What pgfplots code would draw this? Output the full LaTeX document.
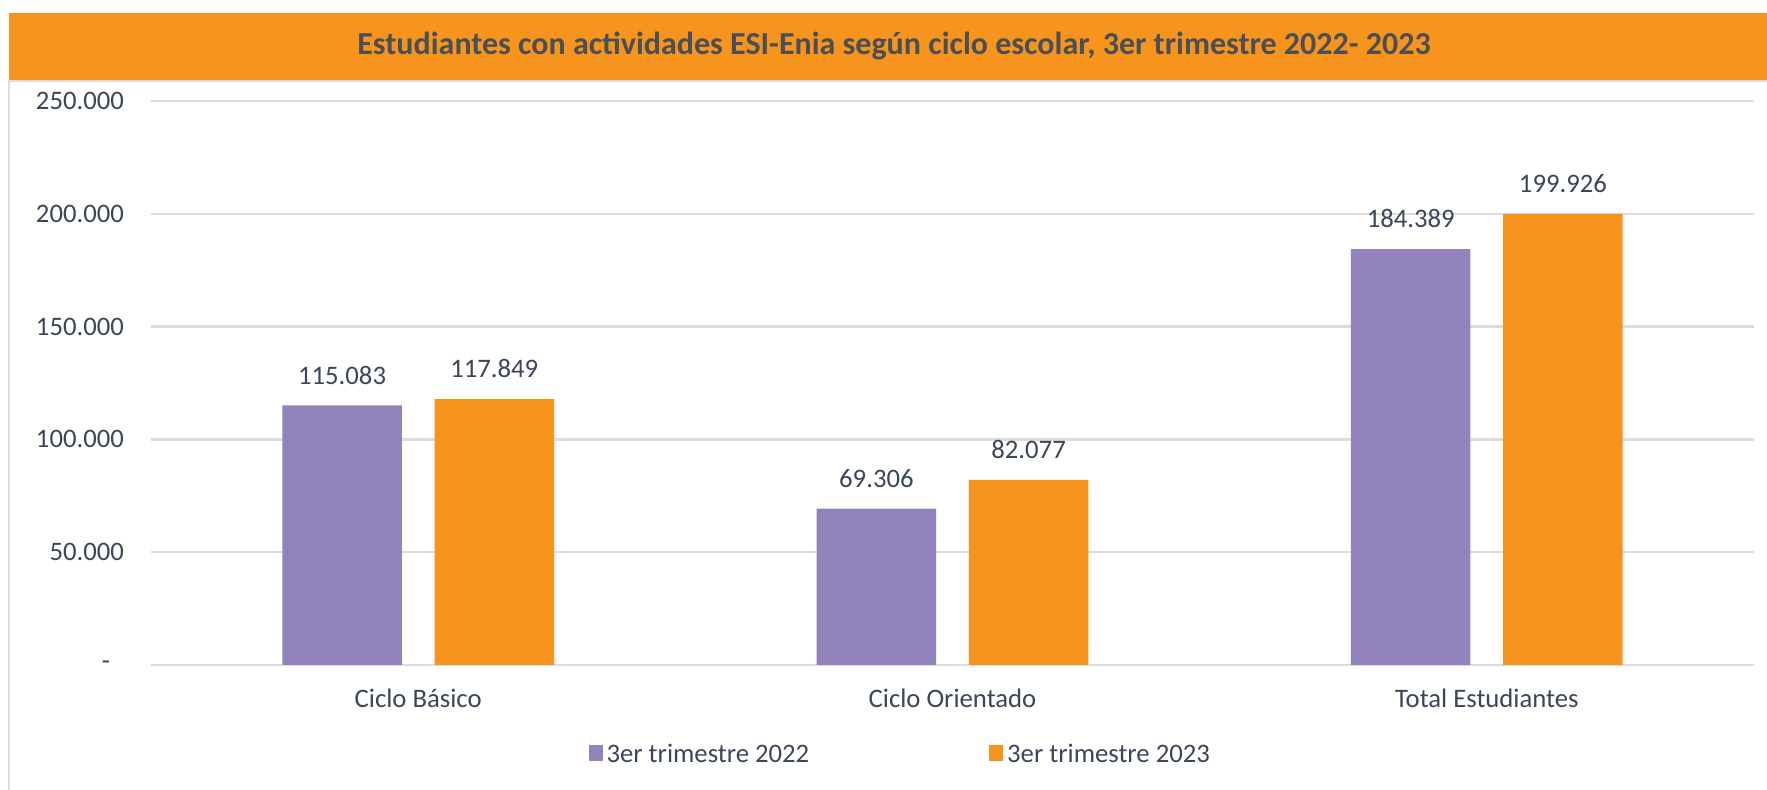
\documentclass[border=0pt]{standalone}
\usepackage{pgfplots}
\pgfplotsset{compat=1.18}
\usepackage{fontspec}
\setmainfont{Carlito}
\definecolor{txt}{HTML}{3B4658}
\definecolor{ttl}{HTML}{4A4F56}
\definecolor{org}{RGB}{247,148,30}
\definecolor{pur}{RGB}{147,131,189}
\definecolor{grd}{HTML}{DCDCDC}
\begin{document}
\begin{tikzpicture}
\path[use as bounding box, fill=white] (0,0) rectangle (883.5pt,395pt);
\fill[org] (4.5pt,355pt) rectangle (883.5pt,388.5pt);
\draw[grd, line width=1pt] (4.5pt,354.5pt) -- (883.5pt,354.5pt);
\draw[grd, line width=1pt] (4.5pt,355pt) -- (4.5pt,0pt);
\node[font=\fontsize{16pt}{19pt}\selectfont\bfseries, text=ttl] at (447pt,372pt) {Estudiantes con actividades ESI-Enia según ciclo escolar, 3er trimestre 2022- 2023};
\begin{axis}[
  at={(75.5pt,62.5pt)}, anchor=south west,
  scale only axis, width=801.5pt, height=282pt,
  ybar=16.35pt, bar width=59.75pt,
  xmin=-0.5, xmax=2.5, ymin=0, ymax=250000,
  xtick={0,1,2}, xticklabels={Ciclo Básico,Ciclo Orientado,Total Estudiantes},
  ytick={0,50000,100000,150000,200000,250000},
  yticklabels={-\rule{7pt}{0pt},50.000,100.000,150.000,200.000,250.000},
  scaled y ticks=false,
  /pgf/number format/assume math mode=true,
  axis line style={draw=none},
  major tick length=0pt,
  ymajorgrids, grid style={grd, line width=1.2pt},
  every tick label/.append style={font=\fontsize{13.35pt}{16pt}\selectfont, text=txt},
  yticklabel style={xshift=-10pt},
  xticklabel style={yshift=-8.5pt},
  point meta=explicit symbolic,
  nodes near coords,
  nodes near coords style={font=\fontsize{13.35pt}{16pt}\selectfont, text=txt, yshift=7pt},
  legend columns=2,
  legend style={at={(0.468,-0.16)}, anchor=center, draw=none, fill=none,
    font=\fontsize{13.35pt}{16pt}\selectfont, text=txt,
    /tikz/every even column/.append style={column sep=88pt}},
  legend image code/.code={\fill[#1] (0pt,-3pt) rectangle (7pt,5pt);},
]
\addplot[fill=pur, draw=none] table[x=x, y=y, meta=l] {
x y l
0 115083 115.083
1 69306 69.306
2 184389 184.389
};
\addlegendentry{3er trimestre 2022}
\addplot[fill=org, draw=none] table[x=x, y=y, meta=l] {
x y l
0 117849 117.849
1 82077 82.077
2 199926 199.926
};
\addlegendentry{3er trimestre 2023}
\end{axis}
\end{tikzpicture}
\end{document}
